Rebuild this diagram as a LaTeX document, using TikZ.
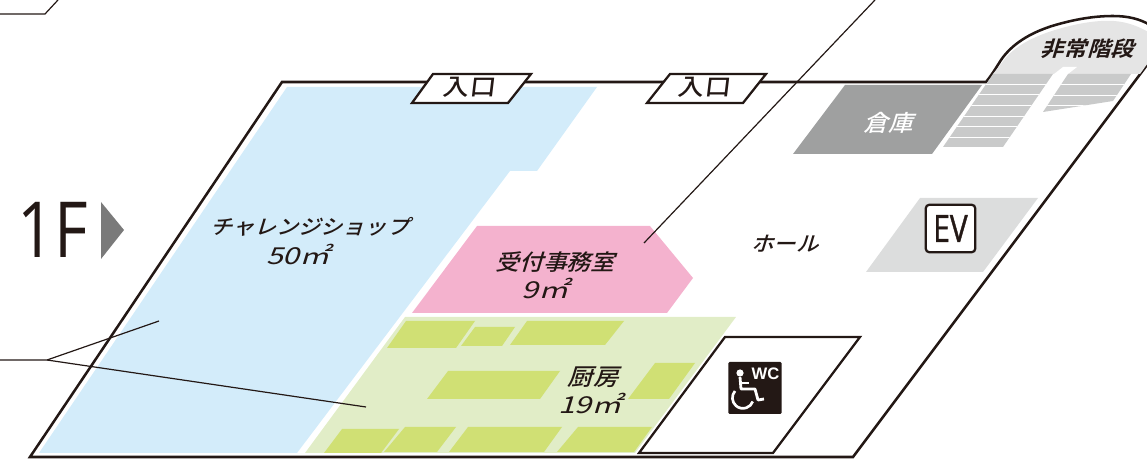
\documentclass[tikz,border=0pt]{standalone}
\usepackage{fontspec}
\newfontfamily\jp[FakeSlant=0.3,FakeStretch=1.08]{Noto Sans CJK JP Medium}
\newfontfamily\jpwide[FakeSlant=0.3,FakeStretch=1.3]{Noto Sans CJK JP}
\newfontfamily\jpb[FakeSlant=0.3,FakeStretch=1.12]{Noto Sans CJK JP Bold}
\newfontfamily\door[FakeSlant=0.12,FakeStretch=1.12]{Noto Sans CJK JP Medium}
\newfontfamily\oskk{Open Sans}
\newfontfamily\oskb[FakeBold=1.2]{Open Sans}
\newfontfamily\lib{Liberation Sans}
\definecolor{ink}{HTML}{231815}
\definecolor{shopblue}{HTML}{D3ECFA}
\definecolor{kitlight}{HTML}{E1EDC7}
\definecolor{kitdark}{HTML}{D0E074}
\definecolor{officepink}{HTML}{F4B2CE}
\definecolor{storegray}{HTML}{9FA0A0}
\definecolor{evgray}{HTML}{DCDDDD}
\definecolor{stairgray}{HTML}{C9CACA}
\definecolor{landing}{HTML}{E5E5E5}
\tikzset{
  wall/.style={draw=ink,line width=1.9pt,line join=miter},
  leader/.style={draw=ink,line width=0.9pt},
  doorbox/.style={draw=ink,fill=white,line width=1.7pt},
  roomtext/.style={text=ink,align=center,inner sep=0pt},
  tread/.style={draw=white,line width=0.7pt},
}
\newcommand{\rtxt}[1]{\fontsize{16.6}{19}\selectfont\jp #1}
\newcommand{\atxt}[1]{\fontsize{17.5}{19}\selectfont\jpwide #1}
\begin{document}
\begin{tikzpicture}[x=0.75pt,y=-0.75pt]
\useasboundingbox (0,0) rectangle (1147,459);
\clip (0,0) rectangle (1147,459);
% walls
\draw[wall] (30,457) -- (282,82) -- (986,82)
  .. controls (994,72) and (997,66) .. (1001,60)
  .. controls (1012,44) and (1030,33) .. (1052,26)
  .. controls (1075,19) and (1095,16) .. (1113,16)
  .. controls (1128,16) and (1140,19) .. (1150,25)
  .. controls (1165,32) and (1165,35) .. (1165,41)
  -- (853,457) -- cycle;
% shop
\fill[shopblue] (39,453) -- (287,87) -- (597,87) -- (537,171) -- (510,171) -- (297,453) -- cycle;
% office
\fill[officepink] (477,226) -- (650,226) -- (693,278) -- (667,313) -- (412,313) -- cycle;
% kitchen
\fill[kitlight] (405,317) -- (736,317) -- (635,453) -- (305,453) -- cycle;
\fill[kitdark] (406,321) -- (475,321) -- (456,348) -- (387,348) -- cycle;
\fill[kitdark] (475,327) -- (515,327) -- (502,346) -- (461,346) -- cycle;
\fill[kitdark] (527,321) -- (624,321) -- (605,345) -- (510,345) -- cycle;
\fill[kitdark] (448,371) -- (560,371) -- (540,399) -- (427,399) -- cycle;
\fill[kitdark] (655,363) -- (695,363) -- (669,399) -- (628,399) -- cycle;
\fill[kitdark] (342,429) -- (399,429) -- (381,453) -- (324,453) -- cycle;
\fill[kitdark] (405,427) -- (456,427) -- (437,452) -- (384,452) -- cycle;
\fill[kitdark] (468,427) -- (562,427) -- (544,452) -- (449,452) -- cycle;
\fill[kitdark] (578,427) -- (652,427) -- (634,452) -- (557,452) -- cycle;
% store
\fill[storegray] (845,85) -- (982,85) -- (932,154) -- (793,154) -- cycle;
% landing
\fill[landing] (993,74) -- (1004,60)
  .. controls (1014,47) and (1032,37) .. (1055,30)
  .. controls (1078,23) and (1098,20) .. (1114,21)
  .. controls (1128,22) and (1140,27) .. (1150,33)
  -- (1150,60) -- (1140,74) -- cycle;
\fill[white] (1063,67) -- (1077,67) -- (1068,74) -- (1054,74) -- cycle;
% stairs
\begin{scope}
\clip (993,74) -- (1053,74) -- (1003,147) -- (943,147) -- cycle;
\fill[stairgray] (930,70) rectangle (1060,150);
\foreach \y in {84,94,105,116,126,137} \draw[tread] (930,\y) -- (1060,\y);
\end{scope}
\begin{scope}
\clip (1068,74) -- (1131,74) -- (1113,101) -- (1043,112) -- cycle;
\fill[stairgray] (1040,70) rectangle (1135,115);
\foreach \y in {84,95,105} \draw[tread] (1040,\y) -- (1135,\y);
\end{scope}
% EV
\fill[evgray] (920,198) -- (1038,198) -- (983,272) -- (866,272) -- cycle;
\node[draw=ink,fill=white,line width=1.7pt,rounded corners=2.5pt,minimum width=37pt,minimum height=35.5pt,inner sep=0pt] (evbox) at (950.5,228.5) {};
\node[inner sep=0pt,text=ink,xscale=0.8] (evtext) at (evbox.center) {\fontsize{28}{30}\selectfont\oskb EV};
% WC room
\draw[draw=ink,fill=white,line width=1.7pt] (725,337) -- (860,337) -- (773,453) -- (639,453) -- cycle;
\node[fill=ink,rounded corners=1pt,minimum width=40pt,minimum height=39pt,inner sep=0pt] (wcbox) at (755,388) {};
\fill[white] (740,373) circle (3.6);
\draw[white,line width=2.1pt,line join=round] (740,377) -- (741,389) -- (755,389) -- (758,400) -- (764,399);
\draw[white,line width=2pt] (741,383) -- (749,383);
\draw[white,line width=2pt] (735,391) arc[start angle=-139,end angle=-340,radius=10.5];
\node[inner sep=0pt,text=white] (wctext) at (765.5,374) {\fontsize{12.5}{13}\selectfont\lib\bfseries WC};
% entrances
\draw[doorbox] (433,74) -- (531,74) -- (508,103) -- (412,103) -- cycle;
\draw[doorbox] (670,74) -- (766,74) -- (743,103) -- (647,103) -- cycle;
\node[roomtext] (door1) at (469,87) {\fontsize{17.5}{19}\selectfont\door 入口};
\node[roomtext] (door2) at (704,87) {\fontsize{17.5}{19}\selectfont\door 入口};
% labels
\node[roomtext] (shop) at (310,227) {\fontsize{15.3}{19}\selectfont\jp チャレンジショップ};
\node[roomtext] (shoparea) at (298,254) {\atxt{50㎡}};
\node[roomtext] (office) at (555,262) {\rtxt{受付事務室}};
\node[roomtext] (officearea) at (545,288) {\atxt{9㎡}};
\node[roomtext] (kitchen) at (593,377) {\fontsize{17.5}{19}\selectfont\jp 厨房};
\node[roomtext] (kitchenarea) at (590,403) {\atxt{19㎡}};
\node[roomtext] (hall) at (785,244) {\fontsize{15.5}{19}\selectfont\jp ホール};
\node[roomtext,text=white] (store) at (888,123) {\fontsize{17}{19}\selectfont\jp 倉庫};
\node[roomtext] (stairs) at (1087,49) {\fontsize{15.6}{19}\selectfont\jpb 非常階段};
% floor mark
\node[inner sep=0pt,text=ink,anchor=base west,xscale=0.84] (floor) at (17,258) {\fontsize{58}{60}\selectfont\oskk 1F};
\fill[black!52] (101,202) -- (124,230) -- (101,259) -- cycle;
% leaders
\coordinate (fork) at (47,360);
\coordinate (westend) at (0,360);
\coordinate (shoptip) at (159,321);
\coordinate (kitchentip) at (366,407);
\coordinate (officetip) at (644,243);
\coordinate (officeout) at (875,0);
\coordinate (tlA) at (0,14);
\coordinate (tlB) at (45,14);
\coordinate (tlC) at (58,0);
\draw[leader] (westend) -- (fork) -- (shoptip);
\draw[leader] (fork) -- (kitchentip);
\draw[leader] (officetip) -- (officeout);
\draw[leader] (tlA) -- (tlB) -- (tlC);
\end{tikzpicture}
\end{document}
